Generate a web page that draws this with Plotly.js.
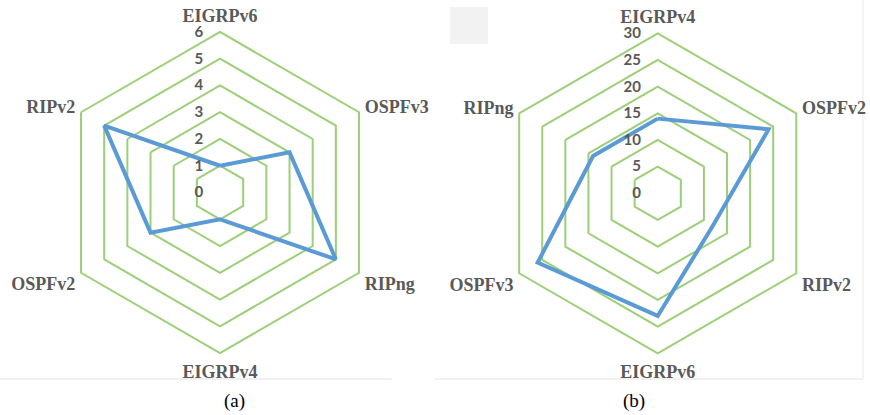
<!DOCTYPE html>
<html>
<head>
<meta charset="utf-8">
<script src="https://cdn.plot.ly/plotly-3.0.1.min.js"></script>
<style>html,body{margin:0;padding:0;background:#fff;}#chart{width:870px;height:415px;}</style>
</head>
<body>
<div id="chart"></div>
<script>
// Chart (a)
const catsA = ["EIGRPv6", "OSPFv3", "RIPng", "EIGRPv4", "OSPFv2", "RIPv2"];
const valsA = [1, 3, 5, 1, 3, 5];
const ticksA = [0, 1, 2, 3, 4, 5, 6];
// Chart (b)
const catsB = ["EIGRPv4", "OSPFv2", "RIPv2", "EIGRPv6", "OSPFv3", "RIPng"];
const valsB = [14, 24, 12, 23, 26, 14];
const ticksB = [0, 5, 10, 15, 20, 25, 30];
const captions = ["(a)", "(b)"];

const blue = "#5b9bd5";
const green = "#9ccf78";
const gray = "#595959";

function closeLoop(a) { return a.concat([a[0]]); }

const traces = [
  {type: "scatterpolar", r: closeLoop(valsA), theta: closeLoop(catsA), subplot: "polar",
   mode: "lines", line: {color: blue, width: 4}, hoverinfo: "skip"},
  {type: "scatterpolar", r: closeLoop(valsB), theta: closeLoop(catsB), subplot: "polar2",
   mode: "lines", line: {color: blue, width: 4}, hoverinfo: "skip"}
];

function polarCfg(domX, domY, cats, ticks) {
  return {
    domain: {x: domX, y: domY},
    gridshape: "linear",
    bgcolor: "rgba(0,0,0,0)",
    angularaxis: {
      type: "category", categoryorder: "array", categoryarray: cats,
      direction: "clockwise", rotation: 90,
      showgrid: false, showline: true, linecolor: green, linewidth: 2,
      ticks: "outside", ticklen: 2, tickcolor: "rgba(0,0,0,0)",
      tickfont: {family: "Liberation Serif", size: 18, color: gray, weight: "bold"}
    },
    radialaxis: {
      range: [ticks[0], ticks[ticks.length - 1]], tickvals: ticks, ticktext: ticks.map(String),
      angle: 90, side: "counterclockwise", tickangle: 90,
      showline: false, ticks: "outside", ticklen: 11, tickcolor: "rgba(0,0,0,0)",
      showgrid: true, gridcolor: green, gridwidth: 2,
      tickfont: {family: "Lato", size: 15, color: gray, weight: "bold"}
    }
  };
}

const layout = {
  width: 870, height: 415,
  margin: {l: 0, r: 0, t: 0, b: 0},
  paper_bgcolor: "#fff",
  showlegend: false,
  polar: polarCfg([0.0684, 0.4374], [0.1494, 0.9229], catsA, ticksA),
  polar2: polarCfg([0.5721, 0.9399], [0.1487, 0.9198], catsB, ticksB),
  shapes: [
    {type: "line", layer: "below", xref: "paper", yref: "paper", x0: 0.0, x1: 0.45, y0: 1 - 379/415, y1: 1 - 379/415,
     line: {color: "#ececec", width: 1.5}},
    {type: "line", layer: "below", xref: "paper", yref: "paper", x0: 0.5, x1: 0.992, y0: 1 - 379/415, y1: 1 - 379/415,
     line: {color: "#ececec", width: 1.5}},
    {type: "line", layer: "below", xref: "paper", yref: "paper", x0: 0.992, x1: 0.992, y0: 1 - 379/415, y1: 1,
     line: {color: "#f0f0f0", width: 1.5}},
    {type: "rect", layer: "below", xref: "paper", yref: "paper", x0: 450/870, x1: 488/870, y0: 1 - 44/415, y1: 1 - 7/415,
     fillcolor: "#f2f2f2", line: {width: 0}}
  ],
  annotations: [
    {text: captions[0], xref: "paper", yref: "paper", x: 222/870, y: 1 - 401/415, yanchor: "middle",
     showarrow: false, font: {family: "Liberation Serif", size: 19, color: "#000"}},
    {text: captions[1], xref: "paper", yref: "paper", x: 647/870, y: 1 - 401/415, yanchor: "middle",
     showarrow: false, font: {family: "Liberation Serif", size: 19, color: "#000"}}
  ]
};

Plotly.newPlot("chart", traces, layout, {staticPlot: true, displayModeBar: false});
</script>
</body>
</html>
